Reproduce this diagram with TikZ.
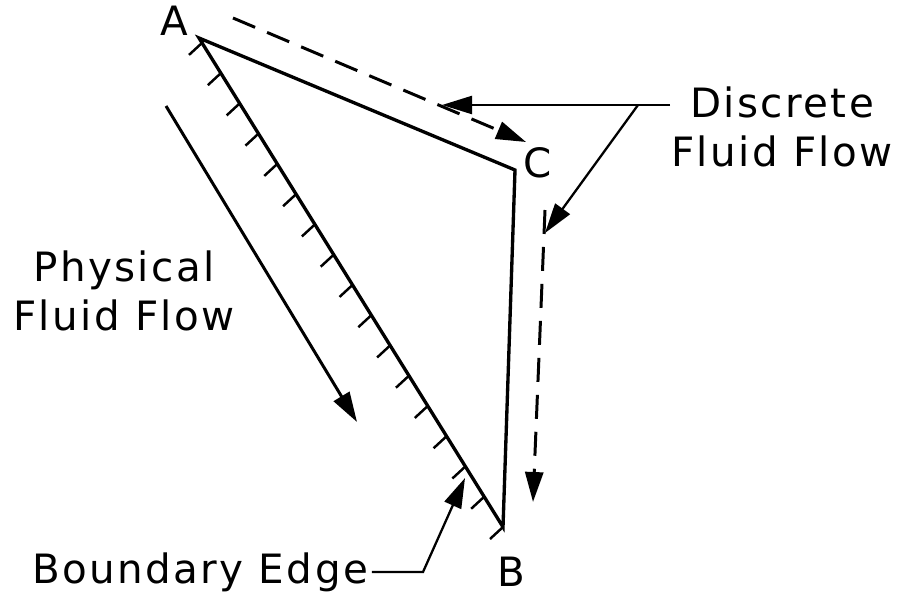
\documentclass[tikz,border=0pt]{standalone}
\usepackage{fontspec}
\setmainfont{DejaVu Sans}[LetterSpace=6]
\usetikzlibrary{arrows.meta, calc, positioning}
\tikzset{
  % Line styles
  edge/.style={line width=1.9pt},
  hatch/.style={line width=1.4pt},
  flow/.style={line width=1.7pt, -{Triangle[length=6mm, width=3.6mm]}},
  dflow/.style={flow, dash pattern=on 4.8mm off 2.6mm},
  leader/.style={line width=1.3pt, -{Triangle[length=6mm, width=3.6mm]}},
  % Text styles
  lbl/.style={font=\fontsize{23}{28}\selectfont, inner sep=2pt, align=center},
}

\begin{document}
\begin{tikzpicture}[x=0.02cm, y=-0.02cm]
    \useasboundingbox (0,0) rectangle (901,598);

    % Triangle
    \coordinate (A) at (199,38);
    \coordinate (C) at (515,170);
    \coordinate (B) at (503,527);
    \draw[edge, line join=miter] (A) -- (C) -- (B) -- cycle;

    % Boundary hatching
    \foreach \i in {0,...,16} {
      \draw[hatch] ($(A)!{0.01+\i*0.061875}!(B)$) -- ++(-13,12);
    }

    % Vertex labels
    \node[lbl] (labA) at (174,21) {A};
    \node[lbl] (labC) at (538,163) {C};
    \node[lbl] (labB) at (511,572) {B};

    % Physical flow
    \coordinate (p1) at (166,106);
    \coordinate (p2) at (357,422);
    \draw[flow] (p1) -- (p2);
    \node[lbl] (physical) at (124,291) {Physical\\Fluid Flow};

    % Discrete flow
    \coordinate (d1) at (233,18);
    \coordinate (d2) at (526,142);
    \coordinate (d3) at (545,210);
    \coordinate (d4) at (533,502);
    \draw[dflow] (d1) -- (d2);
    \draw[dflow] (d3) -- (d4);

    \node[lbl] (discrete) at (782,127) {Discrete\\Fluid Flow};
    \coordinate (dl) at (670,105);
    \coordinate (dk) at (638,105);
    \coordinate (dt1) at (442,105);
    \coordinate (dt2) at (545,233);
    \draw[leader] (dl) -- (dt1);
    \draw[leader] (dk) -- (dt2);

    % Boundary edge
    \node[lbl] (boundary) at (200,572) {Boundary Edge};
    \coordinate (bk) at (423,572);
    \coordinate (bt) at (465,478);
    \draw[leader] (boundary.east) -- (bk) -- (bt);
\end{tikzpicture}
\end{document}
